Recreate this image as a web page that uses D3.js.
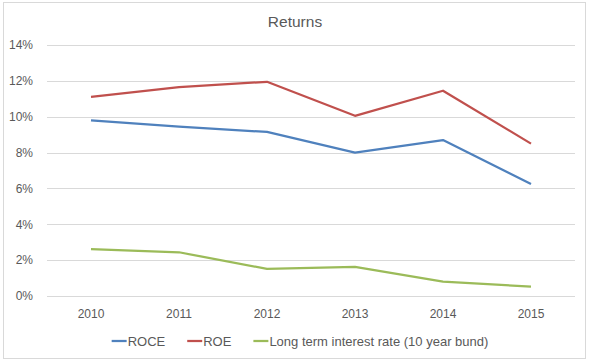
<!DOCTYPE html>
<html>
<head>
<meta charset="utf-8">
<script src="https://d3js.org/d3.v7.min.js"></script>
<style>
  body { margin: 0; background: #fff; }
  text { font-family: "Liberation Sans", Arial, sans-serif; fill: #595959; }
</style>
</head>
<body>
<div id="chart"></div>
<script>
// data
var years = ["2010", "2011", "2012", "2013", "2014", "2015"];
var roce = [9.8, 9.45, 9.15, 8.0, 8.7, 6.25];
var roe = [11.1, 11.65, 11.95, 10.05, 11.45, 8.5];
var bund = [2.62, 2.44, 1.51, 1.63, 0.8, 0.52];
var yTicks = [0, 2, 4, 6, 8, 10, 12, 14];
var seriesNames = ["ROCE", "ROE", "Long term interest rate (10 year bund)"];
var seriesColors = ["#4F81BD", "#C0504D", "#9BBB59"];

var width = 589,
    height = 362;

var svg = d3.select("#chart")
  .append("svg")
    .attr("width", width)
    .attr("height", height);

// chart frame
svg.append("rect")
  .attr("x", 3.5).attr("y", 2.5)
  .attr("width", 582).attr("height", 356)
  .attr("fill", "#fff")
  .attr("stroke", "#D9D9D9");

svg.append("text")
  .attr("x", 295).attr("y", 27)
  .attr("text-anchor", "middle")
  .style("font-size", "15.5px")
  .text("Returns");

var plotLeft = 47, plotRight = 575;

var x = d3.scaleBand()
  .domain(years)
  .range([plotLeft, plotRight]);

var y = d3.scaleLinear()
  .domain([0, 14])
  .range([296, 45]);

// y axis + gridlines
var yAxis = svg.append("g")
  .attr("transform", "translate(" + plotLeft + ",0)")
  .call(d3.axisLeft(y)
    .tickValues(yTicks)
    .tickFormat(function(d) { return d + "%"; })
    .tickSizeInner(-(plotRight - plotLeft))
    .tickSizeOuter(0)
    .tickPadding(14));
yAxis.select(".domain").remove();
yAxis.selectAll("line").attr("stroke", "#D9D9D9").attr("shape-rendering", "crispEdges");
yAxis.selectAll("text")
  .style("font-size", "12px")
  .attr("fill", "#595959")
  .attr("font-family", null);

// x axis labels
var xAxis = svg.append("g")
  .attr("transform", "translate(0," + y(0) + ")")
  .call(d3.axisBottom(x).tickSize(0).tickPadding(13));
xAxis.select(".domain").remove();
xAxis.selectAll("text")
  .style("font-size", "12px")
  .attr("fill", "#595959")
  .attr("font-family", null);

// lines
var line = d3.line()
  .x(function(d, i) { return x(years[i]) + x.bandwidth() / 2; })
  .y(function(d) { return y(d); });

[roce, roe, bund].forEach(function(s, i) {
  svg.append("path")
    .datum(s)
    .attr("d", line)
    .attr("fill", "none")
    .attr("stroke", seriesColors[i])
    .attr("stroke-width", 2.25)
    .attr("stroke-linejoin", "round");
});

// legend, centred under the chart
var legend = svg.append("g");
var lx = 0, gap = 22, lineLen = 15;
seriesNames.forEach(function(name, i) {
  var item = legend.append("g").attr("transform", "translate(" + lx + ",0)");
  item.append("line")
    .attr("x1", 0).attr("x2", lineLen)
    .attr("y1", 0).attr("y2", 0)
    .attr("stroke", seriesColors[i])
    .attr("stroke-width", 2.25);
  var t = item.append("text")
    .attr("x", lineLen + 1)
    .attr("y", 0)
    .attr("dy", "0.35em")
    .style("font-size", "13px")
    .text(name);
  lx += lineLen + 1 + t.node().getComputedTextLength() + gap;
});
var legendW = lx - gap;
legend.attr("transform", "translate(" + (300 - legendW / 2) + ",341)");
</script>
</body>
</html>
